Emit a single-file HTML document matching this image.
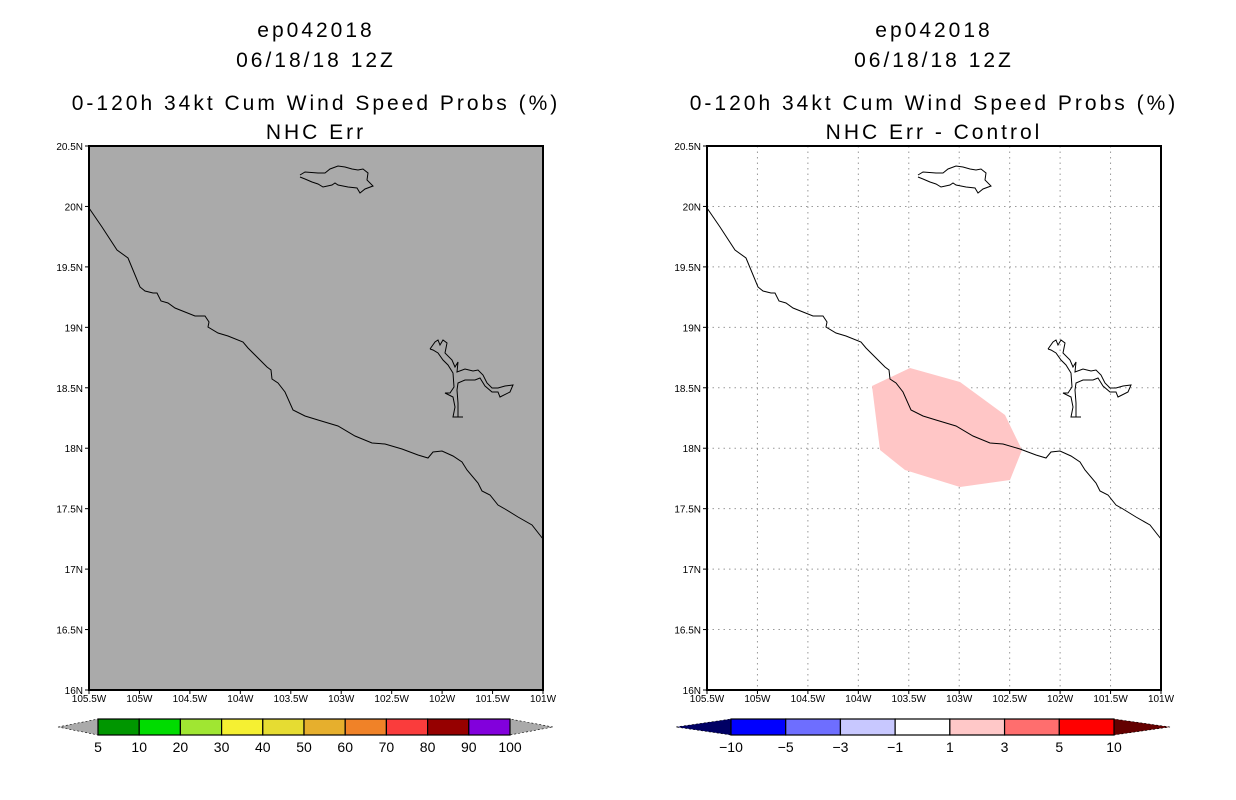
<!DOCTYPE html>
<html><head><meta charset="utf-8"><style>
body{margin:0;background:#fff;width:1236px;height:800px;overflow:hidden}
svg{display:block}
text{font-family:"Liberation Sans",sans-serif;fill:#000}
.t{font-size:21px;text-anchor:middle;letter-spacing:3px}
.ax{font-size:10px}
</style></head><body>
<svg id="s" width="1236" height="800"></svg>
<script>
const lonTicks=["105.5W","105W","104.5W","104W","103.5W","103W","102.5W","102W","101.5W","101W"];
const latTicks=["16N","16.5N","17N","17.5N","18N","18.5N","19N","19.5N","20N","20.5N"];
const leftLevels=["5","10","20","30","40","50","60","70","80","90","100"];
const leftColors=["#009600","#00dc00","#a0e632","#f5f032","#e6dc32","#e6af2d","#f08228","#fa3c3c","#960000","#8200dc"];
const rightLevels=["-10","-5","-3","-1","1","3","5","10"];
const rightColors=["#0000ff","#6e6eff","#c8c8ff","#ffffff","#ffc8c8","#ff6e6e","#ff0000"];
const coast=[[0,62],[13,81],[28,104],[39,112],[51,141],[56,145],[64,147],[68,147],[72,155],[79,157],[86,162],[96,166],[106,170],[116,170],[120,176],[119,181],[129,187],[139,190],[154,196],[159,202],[178,221],[182,224],[183,233],[189,237],[196,246],[204,264],[216,270],[229,274],[249,280],[266,290],[283,297],[296,298],[313,303],[329,309],[339,312],[344,306],[353,305],[364,310],[373,316],[378,324],[389,337],[393,345],[401,349],[409,359],[416,363],[429,371],[443,379],[454,393]];
const island=[[211,29],[216,26],[229,27],[236,27],[241,23],[249,20],[256,21],[263,23],[269,24],[274,23],[279,27],[278,34],[284,40],[276,43],[271,47],[268,42],[259,41],[249,39],[246,37],[243,39],[234,41],[229,38],[223,36],[216,33],[211,31]];
const lake=[[341,203],[346,196],[349,194],[351,199],[354,194],[358,197],[356,207],[363,214],[366,221],[369,216],[368,226],[376,223],[384,225],[389,224],[394,229],[398,237],[403,242],[409,242],[416,240],[424,239],[421,246],[411,251],[409,246],[403,246],[396,240],[391,232],[386,234],[376,234],[369,237],[368,244],[369,257],[369,271],[374,271],[364,271],[366,261],[364,251],[356,247],[361,247],[365,241],[364,227],[359,219],[354,214],[349,207],[344,204],[341,203]];
const blob=[[165,240],[203,222],[253,236],[298,269],[315,304],[303,334],[253,341],[198,324],[173,304]];
const S=document.getElementById('s');const NS="http://www.w3.org/2000/svg";
function el(tag,a,p){const e=document.createElementNS(NS,tag);for(const k in a)e.setAttribute(k,a[k]);(p||S).appendChild(e);return e;}
function txt(x,y,s,c,p){const e=el('text',{x:x,y:y,class:c},p);e.textContent=s;return e;}
const W=454,H=544,PY=146;
function panel(px,cx,sub,gray,name){
  const g=el('g',{});
  
  
  let t=txt(cx,37,"ep042018","t",g);
  t=txt(cx,67,"06/18/18 12Z","t",g);
  t=txt(cx,110,"0-120h 34kt Cum Wind Speed Probs (%)","t",g);
  t=txt(cx,139,sub,"t",g);
  const bg=el('rect',{x:px,y:PY,width:W,height:H,fill:gray?'#aaaaaa':'#ffffff'},g);
  
  const xs=i=>px+i*W/(lonTicks.length-1), ys=i=>PY+H-i*H/(latTicks.length-1);
  if(!gray){
    for(let i=1;i<lonTicks.length-1;i++){const l=el('line',{x1:xs(i),x2:xs(i),y1:PY,y2:PY+H,stroke:'#999','stroke-dasharray':'1.5 4'},g);}
    for(let i=1;i<latTicks.length-1;i++){const l=el('line',{x1:px,x2:px+W,y1:ys(i),y2:ys(i),stroke:'#999','stroke-dasharray':'1.5 4'},g);}
    const b=el('polygon',{points:blob.map(p=>(px+p[0])+','+(PY+p[1])).join(' '),fill:'#ffc6c6'},g);
    
  }
  const pl=(arr,n)=>{const e=el('polyline',{points:arr.map(p=>(px+p[0])+','+(PY+p[1])).join(' '),fill:'none',stroke:'#000','stroke-width':1},g);};
  pl(coast,'coastline');pl(island,'island-outline');pl(lake,'lake-outline');
  const fr=el('rect',{x:px,y:PY,width:W,height:H,fill:'none',stroke:'#000','stroke-width':2},g);
  
  lonTicks.forEach((s,i)=>{el('line',{x1:xs(i),x2:xs(i),y1:PY+H,y2:PY+H+4,stroke:'#000'},g);
    const e=txt(xs(i),PY+H+12,s,"ax",g);e.setAttribute('text-anchor','middle');
    });
  latTicks.forEach((s,i)=>{el('line',{x1:px-4,x2:px,y1:ys(i),y2:ys(i),stroke:'#000'},g);
    const e=txt(px-6,ys(i)+4,s,"ax",g);e.setAttribute('text-anchor','end');
    });
}
panel(89,316,"NHC Err",true,'left-panel');
panel(707,934,"NHC Err - Control",false,'right-panel');
function cbar(x0,x1,tl,tr,levels,colors,lc,rc,name){
  const g=el('g',{});
  
  
  const y0=719,y1=735,ym=727,n=colors.length,w=(x1-x0)/n;
  el('polygon',{points:`${tl},${ym} ${x0},${y0} ${x0},${y1}`,fill:lc,stroke:'#000','stroke-width':0.6,'stroke-dasharray':'2 2'},g);
  el('polygon',{points:`${tr},${ym} ${x1},${y0} ${x1},${y1}`,fill:rc,stroke:'#000','stroke-width':0.6,'stroke-dasharray':'2 2'},g);
  colors.forEach((c,i)=>{const r=el('rect',{x:x0+i*w,y:y0,width:w,height:y1-y0,fill:c,stroke:'#000','stroke-width':1.2},g);
    });
  levels.forEach((s,i)=>{const e=txt(x0+i*w,752,s.replace('-','\u2212'),"",g);
    e.setAttribute('font-size','14');e.setAttribute('text-anchor','middle');
    });
}
cbar(98,510,58,553,leftLevels,leftColors,'#aaaaaa','#aaaaaa','left-colorbar');
cbar(731,1114,676,1170,rightLevels,rightColors,'#000064','#640000','right-colorbar');
</script>
</body></html>
